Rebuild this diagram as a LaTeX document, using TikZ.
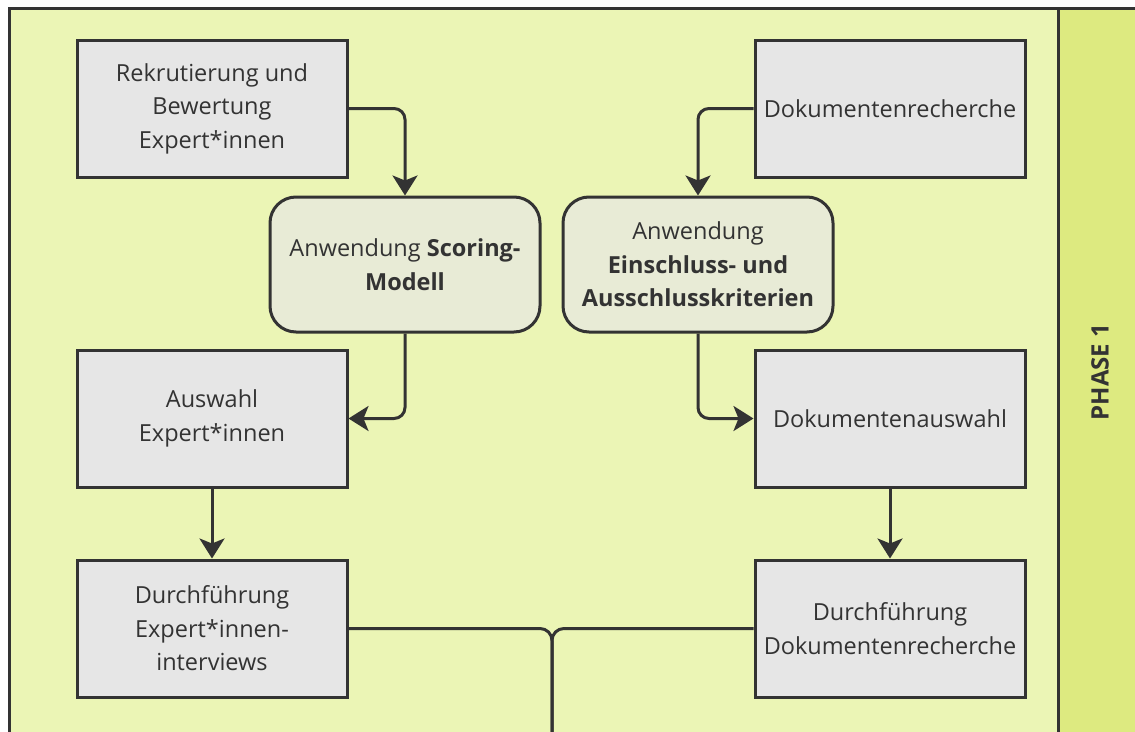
\documentclass[tikz,border=0pt]{standalone}
\usepackage{fontspec}
\setmainfont{Open Sans}
\usetikzlibrary{arrows.meta}
\definecolor{bgmain}{RGB}{235,245,181}
\definecolor{bgphase}{RGB}{221,234,128}
\definecolor{boxgray}{RGB}{230,230,230}
\definecolor{boxsoft}{RGB}{232,235,214}
\definecolor{ink}{RGB}{51,51,51}
\begin{document}
\begin{tikzpicture}[x=1pt,y=-1pt,
  every node/.style={font=\fontsize{23.5}{33.5}\selectfont, text=ink},
  stepbox/.style={draw=ink, line width=3pt, fill=boxgray, minimum width=270pt,
    minimum height=137pt, align=center, inner sep=0pt},
  softbox/.style={draw=ink, line width=3pt, fill=boxsoft, minimum width=270pt,
    minimum height=135pt, align=center, inner sep=0pt, rounded corners=26pt},
  flow/.style={draw=ink, line width=3pt, rounded corners=11pt,
    -{Stealth[width=25pt,length=20pt,inset=5pt]}},
  joinline/.style={draw=ink, line width=3pt, rounded corners=12pt}]
\useasboundingbox (0,0) rectangle (1135,731);
% canvas and phase column
\fill[white] (0,0) rectangle (1135,731);
\fill[bgmain] (9,8) rectangle (1140,740);
\fill[bgphase] (1058,8) rectangle (1140,740);
\draw[ink, line width=3pt] (9,745) -- (9,8) -- (1145,8);
\draw[ink, line width=3pt] (1058,8) -- (1058,745);
\node[rotate=90, font=\fontsize{24}{28}\selectfont\bfseries] (phase) at (1100,372) {PHASE 1};
% expert branch
\node[stepbox] (rek) at (212,108.5) {Rekrutierung und\\Bewertung\\Expert*innen};
\node[softbox] (score) at (405,264.5) {Anwendung \textbf{Scoring-}\\\textbf{Modell}};
\node[stepbox] (ausw) at (212,418.5) {Auswahl\\Expert*innen};
\node[stepbox] (durchE) at (212,628.5) {Durchführung\\Expert*innen-\\interviews};
% document branch
\node[stepbox] (dok) at (890,108.5) {Dokumentenrecherche};
\node[softbox] (krit) at (698,264.5) {Anwendung\\\textbf{Einschluss- und}\\\textbf{Ausschlusskriterien}};
\node[stepbox] (doka) at (890,418.5) {Dokumentenauswahl};
\node[stepbox] (durchD) at (890,628.5) {Durchführung\\Dokumentenrecherche};
% connectors
\draw[flow] (rek.east) -| (score.north);
\draw[flow] (dok.west) -| (krit.north);
\draw[flow] (score.south) |- (ausw.east);
\draw[flow] (krit.south) |- (doka.west);
\draw[flow] (ausw.south) -- (durchE.north);
\draw[flow] (doka.south) -- (durchD.north);
\coordinate (out) at (552,740);
\draw[joinline] (durchE.east) -| (out);
\draw[joinline] (durchD.west) -| (out);
\end{tikzpicture}
\end{document}
